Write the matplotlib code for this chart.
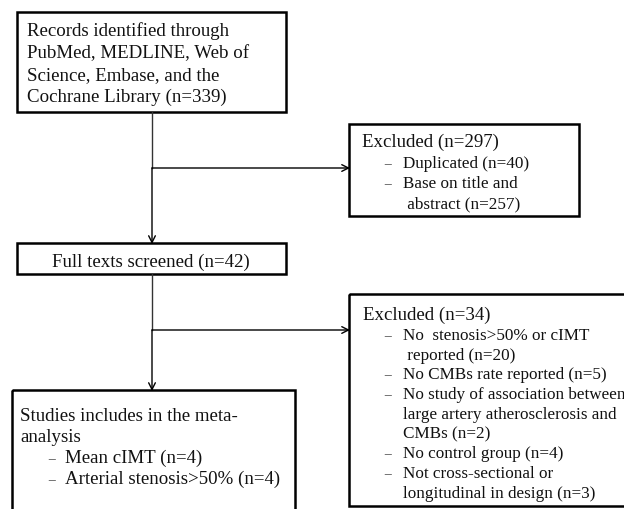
import matplotlib

matplotlib.use("Agg")
import matplotlib.pyplot as plt
from matplotlib.patches import Rectangle

# --------------------------------------------------------------------- #
# Flow diagram content
# --------------------------------------------------------------------- #
IDENTIFIED = [
    "Records identified through",
    "PubMed, MEDLINE, Web of",
    "Science, Embase, and the",
    "Cochrane Library (n=339)",
]
EXCLUDED_1_HEAD = "Excluded (n=297)"
EXCLUDED_1_ITEMS = [
    ["Duplicated (n=40)"],
    ["Base on title and", " abstract (n=257)"],
]
SCREENED = "Full texts screened (n=42)"
EXCLUDED_2_HEAD = "Excluded (n=34)"
EXCLUDED_2_ITEMS = [
    ["No  stenosis>50% or cIMT", " reported (n=20)"],
    ["No CMBs rate reported (n=5)"],
    ["No study of association between", "large artery atherosclerosis and", "CMBs (n=2)"],
    ["No control group (n=4)"],
    ["Not cross-sectional or", "longitudinal in design (n=3)"],
]
INCLUDED = ["Studies includes in the meta-", "analysis"]
INCLUDED_ITEMS = [["Mean cIMT (n=4)"], ["Arterial stenosis>50% (n=4)"]]

FONT = dict(family="Liberation Serif", fontsize=13.6, color="#111111")
SMALL = {**FONT, "fontsize": 12.3}
DASH = "\u2212"

fig = plt.figure(figsize=(6.24, 5.10), dpi=100)
ax = fig.add_axes([0, 0, 1, 1])
ax.set_xlim(0, 624)
ax.set_ylim(510, 0)
ax.axis("off")


def box(x0, y0, x1, y1):
    ax.add_patch(Rectangle((x0, y0), x1 - x0, y1 - y0, fill=False,
                           lw=1.8, edgecolor="black", clip_on=True))


def line(x0, y0, x1, y1):
    ax.plot([x0, x1], [y0, y1], color="#333333", lw=1.0)


def arrow(x0, y0, x1, y1):
    ax.annotate("", xy=(x1, y1), xytext=(x0, y0),
                arrowprops=dict(arrowstyle="->", color="black", lw=1.0,
                                mutation_scale=12, shrinkA=0, shrinkB=0))


def bullets(items, y, step, dash_x, text_x, font):
    for item in items:
        ax.text(dash_x, y, DASH, va="baseline", ha="left",
                **{**font, "color": "#555555", "fontsize": 11})
        for sub in item:
            ax.text(text_x, y, sub, va="baseline", ha="left", **font)
            y += step
    return y


# Boxes
box(17, 13, 286, 113)
box(349, 125, 579, 217)
box(17, 244, 286, 275)
box(349, 295, 640, 507)
box(12, 391, 295, 530)

# Connectors
line(152, 113, 152, 169)
arrow(152, 169, 152, 245)
arrow(152, 169, 350, 169)
line(152, 275, 152, 331)
arrow(152, 331, 152, 392)
arrow(152, 331, 350, 331)

# Identification box
for i, s in enumerate(IDENTIFIED):
    ax.text(27, 36 + 22 * i, s, va="baseline", ha="left", **FONT)

# First exclusion box
ax.text(362, 147, EXCLUDED_1_HEAD, va="baseline", ha="left", **FONT)
bullets(EXCLUDED_1_ITEMS, 168, 20, 383, 403, SMALL)

# Screening box
ax.text(151, 267, SCREENED, va="baseline", ha="center", **FONT)

# Second exclusion box
ax.text(363, 320, EXCLUDED_2_HEAD, va="baseline", ha="left", **FONT)
bullets(EXCLUDED_2_ITEMS, 340, 19.7, 383, 403, SMALL)

# Included box
for i, s in enumerate(INCLUDED):
    ax.text(20, 421 + 21 * i, s, va="baseline", ha="left", **FONT)
bullets(INCLUDED_ITEMS, 463, 21, 47, 65, FONT)

fig.savefig("out.png", dpi=100)
